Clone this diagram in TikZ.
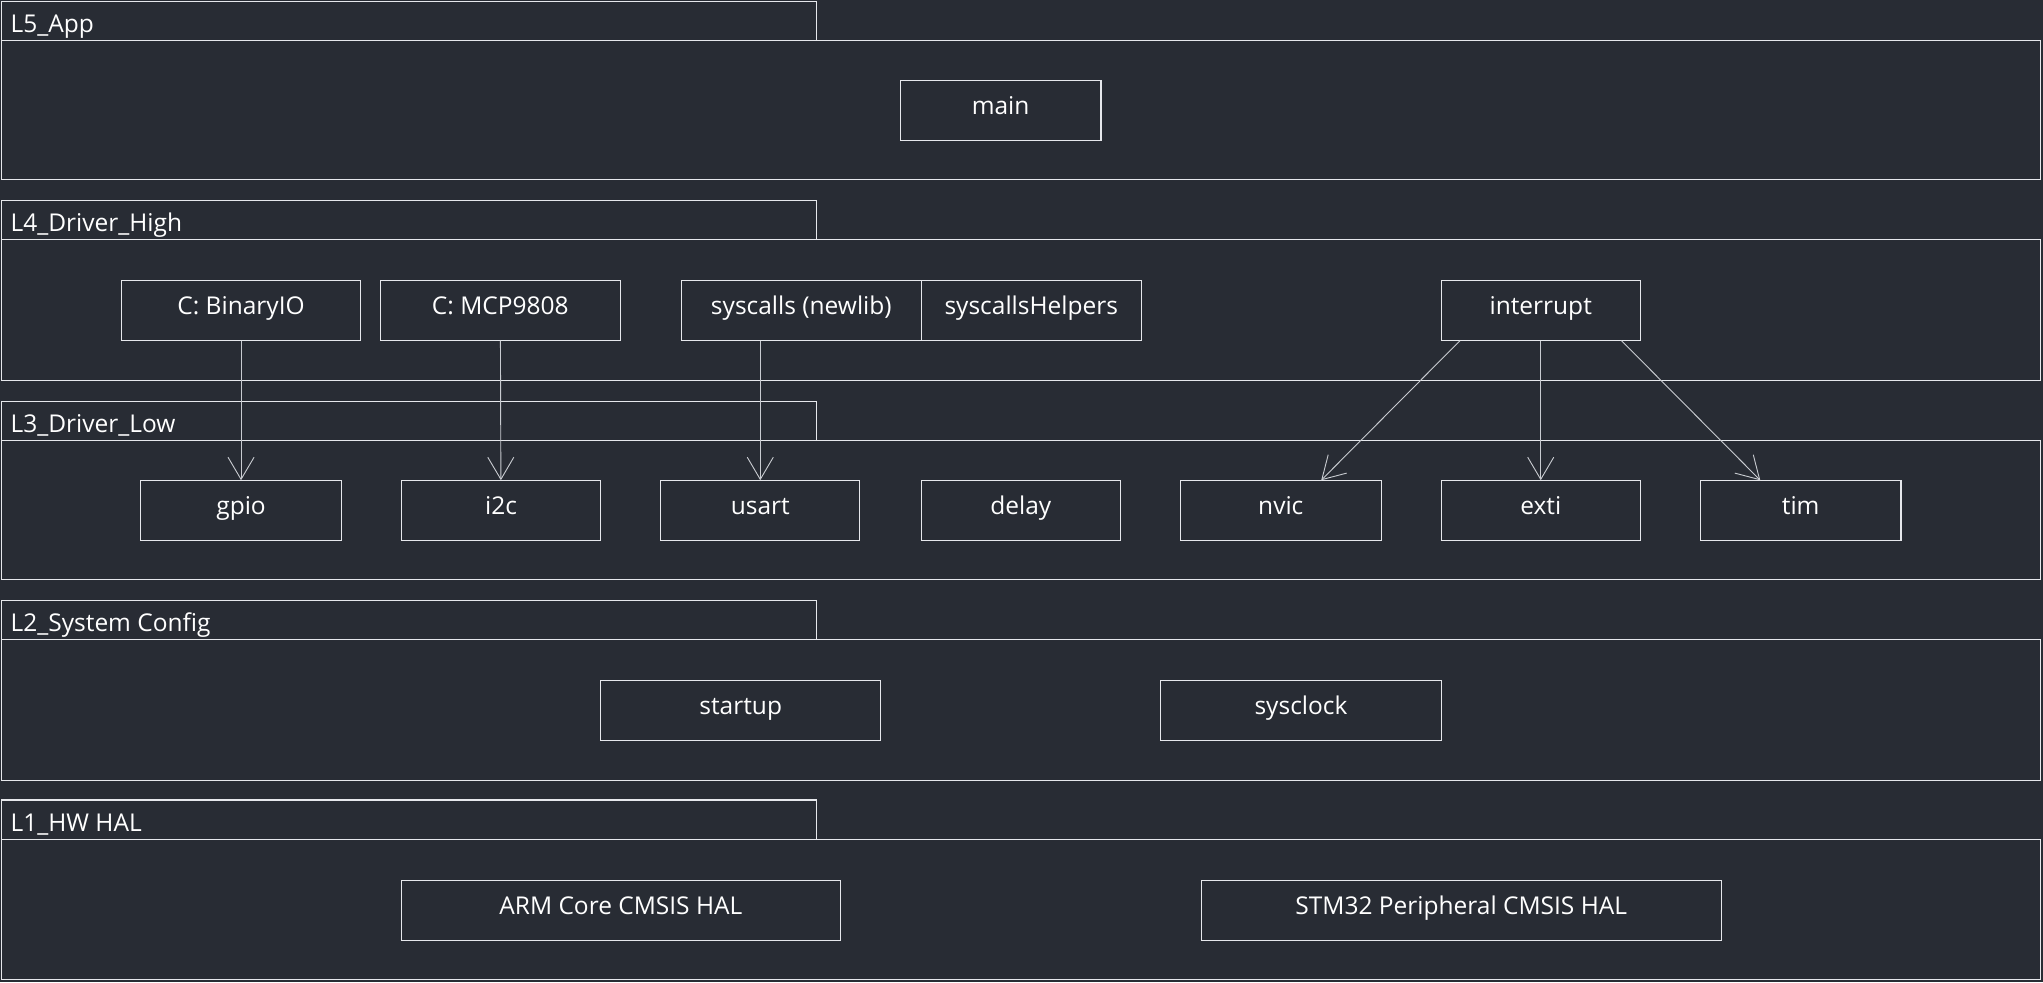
\documentclass[tikz,border=0pt]{standalone}
\usepackage{fontspec}
\setmainfont{Open Sans}
\usetikzlibrary{arrows.meta}
\definecolor{bgdark}{HTML}{282C34}
\definecolor{lineclr}{HTML}{E6E8EC}
\definecolor{arrowclr}{HTML}{C8CBD0}

\begin{document}
\begin{tikzpicture}[x=1pt, y=-1pt,
    layer/.style={draw=lineclr, line width=0.8pt},
    tabtext/.style={anchor=west, inner sep=0pt, text height=12pt, text depth=6pt, text=white, font=\fontsize{18.8}{22}\selectfont},
    module/.style={draw=lineclr, line width=0.8pt, minimum height=46pt, inner sep=0pt, text height=12pt, text depth=6pt, text=white, font=\fontsize{18.8}{22}\selectfont},
    dep/.style={draw=arrowclr, line width=0.7pt, -{Straight Barb[length=17pt, width=20pt]}}]
    \fill[bgdark] (0,0) rectangle (1568,754);
    \useasboundingbox (0,0) rectangle (1568,754);

    % layer frames
    \draw[layer] (1,1) rectangle (627,31);
    \draw[layer] (1,31) rectangle (1566,138);
    \node[tabtext] (tab5) at (8,22) {L5\_App};
    \draw[layer] (1,154) rectangle (627,184);
    \draw[layer] (1,184) rectangle (1566,292);
    \node[tabtext] (tab4) at (8,175) {L4\_Driver\_High};
    \draw[layer] (1,308) rectangle (627,338);
    \draw[layer] (1,338) rectangle (1566,445);
    \node[tabtext] (tab3) at (8,329) {L3\_Driver\_Low};
    \draw[layer] (1,461) rectangle (627,491);
    \draw[layer] (1,491) rectangle (1566,599);
    \node[tabtext] (tab2) at (8,482) {L2\_System Config};
    \draw[layer] (1,614) rectangle (627,644);
    \draw[layer] (1,644) rectangle (1566,752);
    \node[tabtext] (tab1) at (8,635) {L1\_HW HAL};

    % L5
    \node[module, minimum width=154pt] (main) at (768,85) {main};

    % L4
    \node[module, minimum width=184pt] (binaryio) at (185,238) {C: BinaryIO};
    \node[module, minimum width=184pt] (mcp) at (384,238) {C: MCP9808};
    \node[module, minimum width=184pt] (syscalls) at (615,238) {syscalls (newlib)};
    \node[module, minimum width=169pt] (helpers) at (791.5,238) {syscallsHelpers};
    \node[module, minimum width=153pt] (interrupt) at (1182.5,238) {interrupt};

    % L3
    \node[module, minimum width=154pt] (gpio) at (185,392) {gpio};
    \node[module, minimum width=153pt] (i2c) at (384.5,392) {i2c};
    \node[module, minimum width=153pt] (usart) at (583.5,392) {usart};
    \node[module, minimum width=153pt] (delay) at (783.5,392) {delay};
    \node[module, minimum width=154pt] (nvic) at (983,392) {nvic};
    \node[module, minimum width=153pt] (exti) at (1182.5,392) {exti};
    \node[module, minimum width=154pt] (tim) at (1382,392) {tim};

    % L2
    \node[module, minimum width=215pt] (startup) at (568.5,545) {startup};
    \node[module, minimum width=215pt] (sysclock) at (998.5,545) {sysclock};

    % L1
    \node[module, minimum width=337pt] (armhal) at (476.5,699) {ARM Core CMSIS HAL};
    \node[module, minimum width=399pt] (stmhal) at (1121.5,699) {STM32 Peripheral CMSIS HAL};

    % dependencies
    \draw[dep] (binaryio) -- (gpio);
    \draw[dep] (mcp) -- (i2c);
    \draw[dep] (syscalls.south -| usart.north) -- (usart);
    \draw[dep] ([xshift=15pt]interrupt.south west) -- ([xshift=31pt]nvic.north);
    \draw[dep] (interrupt) -- (exti);
    \draw[dep] ([xshift=-15pt]interrupt.south east) -- ([xshift=-31pt]tim.north);
\end{tikzpicture}
\end{document}
